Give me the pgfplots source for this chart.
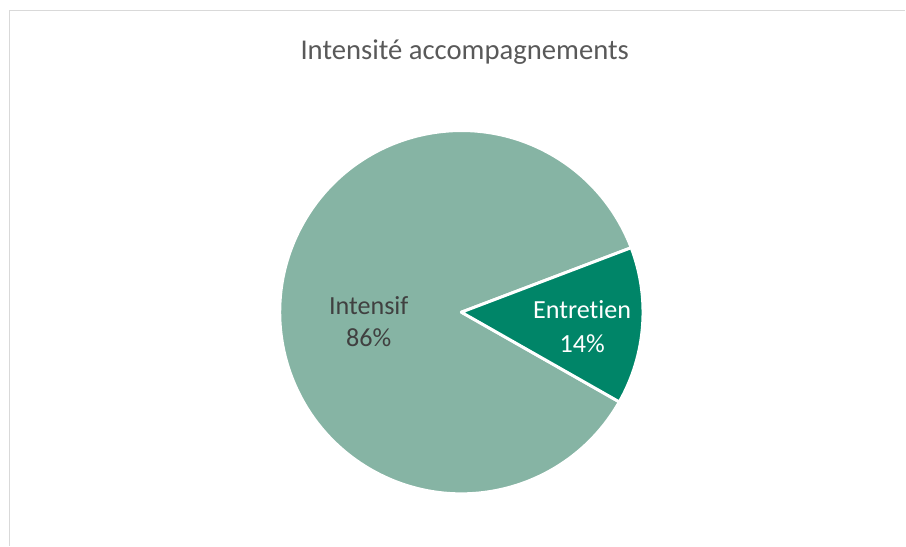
\documentclass[border=0pt]{standalone}
\usepackage{fontspec}
\setmainfont{Carlito}[Ligatures={NoCommon,NoRare}]
\usepackage{pgfplots}
\usepackage{pgfplotstable}
\pgfplotsset{compat=1.18}

\definecolor{intensif}{HTML}{86B4A4}
\definecolor{entretien}{HTML}{008568}
\definecolor{titlegray}{HTML}{595959}
\definecolor{labelgray}{HTML}{404040}
\definecolor{framegray}{HTML}{D9D9D9}

% share of each category, in percent
\pgfplotstableread{
name       value
Entretien  14
Intensif   86
}\piedata

\begin{document}
\begin{tikzpicture}
\pgfplotstablegetelem{0}{value}\of\piedata \let\vEnt\pgfplotsretval
\pgfplotstablegetelem{1}{value}\of\piedata \let\vInt\pgfplotsretval
\pgfmathsetmacro{\aStart}{20.8}
\pgfmathsetmacro{\aEnt}{\aStart-3.6*\vEnt}
\pgfmathsetmacro{\aInt}{\aEnt-3.6*\vInt}
\def\R{136.3pt}
\begin{axis}[
    scale only axis,
    width=679.5pt, height=409.5pt,
    xmin=0, xmax=906, ymin=0, ymax=546,
    hide axis, clip=false,
  ]
  % chart frame (top and left edges visible)
  \draw[framegray, line width=0.9pt] (axis cs:9.5,0) -- (axis cs:9.5,535.5) -- (axis cs:906,535.5);

  % slices
  \filldraw[fill=intensif, draw=white, line width=2.2pt, line join=round]
    (axis cs:461.7,233.6) -- ++(\aEnt:\R)
    arc[start angle=\aEnt, end angle=\aInt, radius=\R] -- cycle;
  \filldraw[fill=entretien, draw=white, line width=2.2pt, line join=round]
    (axis cs:461.7,233.6) -- ++(\aStart:\R)
    arc[start angle=\aStart, end angle=\aEnt, radius=\R] -- cycle;

  % title
  \node[anchor=base, text=titlegray, font=\fontsize{21.5}{26}\selectfont]
    at (axis cs:465,486.7) {Intensité accompagnements};

  % data labels
  \node[anchor=base, text=labelgray, font=\fontsize{19.6}{24}\selectfont]
    at (axis cs:369,231) {Intensif};
  \node[anchor=base, text=labelgray, font=\fontsize{19.6}{24}\selectfont]
    at (axis cs:369,199) {\vInt\%};
  \node[anchor=base, text=white, font=\fontsize{19.6}{24}\selectfont]
    at (axis cs:582.5,227) {Entretien};
  \node[anchor=base, text=white, font=\fontsize{19.6}{24}\selectfont]
    at (axis cs:582.5,193) {\vEnt\%};
\end{axis}
\path (0,0) rectangle (679.5pt,409.5pt);
\end{tikzpicture}
\end{document}
